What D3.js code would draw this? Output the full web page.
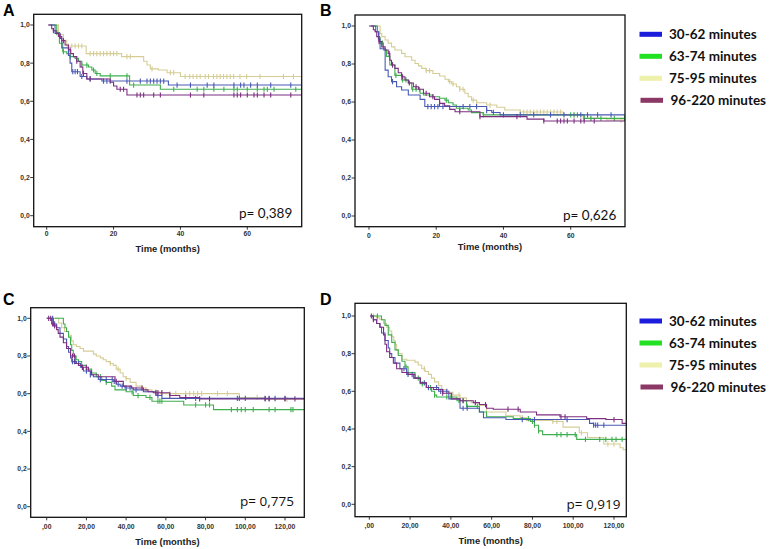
<!DOCTYPE html>
<html>
<head>
<meta charset="utf-8">
<script src="https://cdn.jsdelivr.net/npm/d3@7"></script>
<style>
  body { margin: 0; background: #fff; }
  svg { display: block; }
</style>
</head>
<body>
<main></main>
<script>
const groups = ["30-62 minutes", "63-74 minutes", "75-95 minutes", "96-220 minutes"];
const lineColors = ["#4a5ab4", "#3fae4f", "#d6cd96", "#7d2e80"];
const legendColors = ["#1c1cdc", "#22e022", "#eef1ab", "#8c3866"];
const pValues = ["0,389", "0,626", "0,775", "0,919"];
const panelLetters = ["A", "B", "C", "D"];
const survTicks = [0, 0.2, 0.4, 0.6, 0.8, 1.0];
const monthTicksShort = [0, 20, 40, 60];
const monthTicksLong = [0, 20, 40, 60, 80, 100, 120];

// [time, survival after the step]
const aBlue = [[0.5,1],[2.5,0.956],[4,0.93],[4.5,0.88],[6.5,0.84],[7,0.80],[7.5,0.755],[10,0.73],[12,0.717],[16.5,0.706],[36.4,0.685]];
const aGreen = [[1.5,1],[3,0.96],[3.8,0.904],[4.8,0.86],[6,0.85],[7,0.834],[8.5,0.825],[9.5,0.81],[10.5,0.79],[12.5,0.78],[13.5,0.764],[14.5,0.746],[16,0.733],[24.8,0.685],[34,0.663]];
const aYellow = [[1,1],[3.5,0.95],[5,0.92],[6,0.89],[11.8,0.85],[22.4,0.834],[29,0.81],[30,0.79],[31,0.77],[33.4,0.764],[36,0.75],[40,0.73]];
const aPurple = [[0.5,1],[1.5,0.98],[2,0.97],[2.8,0.956],[3.5,0.94],[4.5,0.918],[5.5,0.895],[6.5,0.87],[7.2,0.85],[8,0.834],[9,0.81],[10,0.78],[10.8,0.746],[12,0.717],[19,0.70],[20,0.68],[21,0.663],[24,0.633]];
const aBlueCens = [7.8,8.5,9.2,10.5,13,17,18,19,24,28,30,31,32,33,34,35,39,43,48,50,56,58,59,61,63,67,73];
const aGreenCens = [3,5,7,10.5,12,14,15,19,24,26,38,45,47,50,53,56,57,60,63,65,66,68,74.5];
const aYellowCens = [6.5,7.5,8.5,9.5,10.5,13,14,15,16,17,18,19,20,21,24,25,31.5,37,38,41.4,42.8,43.8,44.9,45.9,47.4,48.4,49.9,50.9,51.9,52.9,53.9,54.9,55.9,57.8,59.8,63.8,70.8,73.8];
const aPurpleCens = [2,4,5,7,9,11,13,22,23,27,28,29,32,34,43,47,56,57,58,60,62,63,65,67,73];

const bBlue = [[0.5,1],[2,0.97],[2.8,0.93],[3.3,0.88],[4.8,0.768],[5.7,0.733],[6.7,0.707],[8.2,0.68],[9.7,0.663],[11.7,0.637],[15.2,0.614],[16.6,0.576],[35,0.555],[36.5,0.545],[39,0.532]];
const bGreen = [[1,1],[2.5,0.97],[3,0.94],[3.3,0.91],[4.3,0.874],[5.2,0.84],[6.2,0.795],[7.7,0.74],[9.7,0.716],[11.7,0.70],[12.7,0.667],[15.2,0.646],[16.2,0.637],[19,0.628],[21,0.62],[22.6,0.61],[23.6,0.596],[25,0.584],[26,0.567],[29.5,0.558],[30.5,0.544],[34,0.532],[64,0.514]];
const bYellow = [[0.5,1],[3.3,0.96],[3.8,0.944],[4.8,0.926],[5.7,0.91],[6.7,0.89],[7.7,0.874],[9.7,0.856],[10.7,0.838],[12.7,0.82],[13.7,0.803],[14.7,0.79],[15.7,0.777],[17,0.765],[19,0.75],[21,0.737],[22.6,0.72],[23.6,0.707],[24.6,0.695],[26,0.68],[27,0.667],[28.5,0.646],[29.5,0.628],[30.5,0.61],[32,0.596],[35,0.584],[38,0.572],[40.4,0.558],[45,0.547],[57.8,0.532],[63.7,0.514],[70.7,0.505]];
const bPurple = [[0,1],[1.3,0.98],[1.8,0.97],[2.3,0.944],[3,0.918],[3.8,0.89],[4.8,0.874],[5.7,0.856],[6.2,0.82],[6.7,0.795],[7.7,0.777],[8.7,0.754],[9.7,0.733],[10.7,0.716],[11.7,0.70],[13.2,0.68],[14.7,0.667],[16.2,0.646],[18,0.628],[19.5,0.614],[21,0.593],[22.5,0.58],[24,0.561],[25.6,0.549],[33,0.523],[47,0.51],[52,0.50]];
const bBlueCens = [3,7,17.5,18.5,19.5,20.5,22,28,30,32,35,37,40,45,49,54,58,63,65,68,72];
const bGreenCens = [4,7,8,10,11,13,14,15,23,27,34,60,61,62,64,66,69,73,76];
const bYellowCens = [17,18,24,25,27,28,31,32,36,45,46,47,48,49,50,51,52,53,54,55,56,57,61,66,75];
const bPurpleCens = [3,6,7,10,12,14,17,19,21,27,33,44,52,56,57,58,59,61,63,64,67];

const cBlue = [[0,1],[3.4,0.97],[5,0.95],[6.7,0.92],[8.4,0.89],[10,0.85],[11,0.82],[12,0.79],[12.6,0.77],[15,0.76],[17,0.74],[18.5,0.72],[22,0.70],[23.5,0.69],[26,0.675],[33.5,0.665],[35,0.65],[37,0.64],[39.4,0.63],[43.6,0.62],[48.7,0.61],[55,0.59],[58,0.575]];
const cGreen = [[4,1],[8.4,0.97],[9.2,0.95],[10,0.93],[11,0.90],[12,0.86],[12.6,0.83],[13.4,0.80],[14.8,0.78],[16,0.77],[17.6,0.75],[20,0.73],[22.6,0.71],[25,0.69],[27.7,0.67],[30,0.66],[32.7,0.64],[34.4,0.62],[40,0.61],[43.6,0.59],[50,0.58],[53,0.56],[69,0.54],[84,0.515]];
const cYellow = [[2.5,1],[6,0.975],[7.5,0.95],[9,0.93],[11,0.91],[12.5,0.88],[13.4,0.86],[15,0.85],[16.8,0.84],[18.5,0.826],[23.5,0.81],[25,0.80],[27,0.79],[28.5,0.78],[30,0.77],[32,0.76],[33.5,0.75],[35,0.73],[37,0.71],[38.5,0.69],[40,0.68],[42,0.66],[45,0.64],[48,0.63],[50,0.62],[53,0.61],[57,0.60],[97,0.58],[110,0.57]];
const cPurple = [[0,1],[2.5,0.97],[3.5,0.96],[5,0.94],[5.8,0.92],[6.7,0.90],[8.4,0.87],[10,0.84],[12,0.80],[14.3,0.76],[16,0.75],[17.6,0.74],[21,0.72],[22.6,0.70],[26,0.69],[34.4,0.665],[38.6,0.64],[42.8,0.63],[48.7,0.62],[51,0.61],[53.7,0.605],[62,0.59],[67,0.58],[77,0.572]];
const cBlueCens = [3,4,13,14,16,18,20,22,27,30,33,34,36,38,40,42,45,56,75,96,97,100,110,112,115,120];
const cGreenCens = [27,30,43,46,52,56,57,58,75,80,82,93,96,98,100,104,112,115,123,124];
const cYellowCens = [32,36,40,48,50,55,58,62,65,70,72,74,76,78,86,91,106,115,121];
const cPurpleCens = [1,2,3,4,13,14,18,20,35,48,55,56,58,62,70,77,82,110,112,120,125];

const dBlue = [[0.5,1],[2,0.98],[3.6,0.96],[5.2,0.94],[6,0.91],[7.7,0.87],[9.3,0.83],[10,0.80],[11,0.78],[12.6,0.75],[15,0.72],[18.3,0.69],[21.6,0.67],[25,0.645],[28,0.62],[34,0.60],[39,0.56],[44.5,0.51],[54,0.49],[56,0.46],[67,0.45],[108,0.43],[110,0.42]];
const dGreen = [[1,1],[6,0.98],[7.7,0.95],[9.3,0.90],[11,0.86],[12.6,0.82],[14.2,0.79],[16,0.76],[17.5,0.73],[19,0.70],[22.4,0.67],[25,0.64],[28,0.62],[30.5,0.60],[32,0.58],[33,0.57],[43,0.55],[47.7,0.52],[54,0.49],[57.5,0.465],[70.6,0.455],[79,0.44],[81,0.42],[83,0.39],[85,0.37],[101.7,0.345]];
const dYellow = [[1,1],[3.6,0.99],[5.2,0.98],[7,0.96],[8.5,0.94],[10,0.92],[11,0.89],[12,0.87],[12.7,0.85],[13.4,0.82],[14.2,0.80],[16,0.77],[18.3,0.765],[22.4,0.755],[24,0.74],[25.7,0.72],[27.3,0.705],[29,0.69],[30.5,0.67],[32,0.65],[34,0.63],[35.5,0.61],[38,0.595],[41,0.58],[44.5,0.565],[47.7,0.55],[50,0.54],[54,0.525],[57.5,0.49],[67,0.47],[74,0.46],[77,0.445],[90,0.44],[95,0.41],[103,0.38],[107,0.355],[115,0.32],[123,0.30],[124.5,0.29]];
const dPurple = [[0.5,1],[2,0.98],[3.6,0.96],[5.2,0.94],[7,0.90],[7.7,0.85],[8.5,0.81],[10,0.78],[11.8,0.75],[13.4,0.72],[16,0.70],[19,0.69],[22.4,0.67],[25,0.645],[28,0.62],[31.4,0.61],[36,0.59],[40.4,0.56],[44.5,0.55],[51,0.54],[54,0.53],[57.5,0.51],[60.8,0.505],[74,0.49],[82,0.475],[93.5,0.465],[106.6,0.455],[116,0.45],[124,0.43]];
const dBlueCens = [17,19,21,27,29,33,35,36,38,46,48,75,81,97,110,111,112,115];
const dGreenCens = [4,18,24,26,30,32,38,40,44,46,48,53,78,80,81,83,92,94,97,101,106,113,116,119,121,124];
const dYellowCens = [2,4,27,44,57,75,90,92,104,117,120];
const dPurpleCens = [1,2,36,46,52,57,68,73,94,96,120];

const width = 769, height = 549;

// layout of each panel (pixels): box edges, where the reference ticks sit
const panels = [
  { box: [33.7, 14.3, 301.7, 226.7], x: [[0, 60], [46.7, 247.3]], y: [25, 215.7], ticks: monthTicksShort, long: false,
    curves: [aYellow, aGreen, aBlue, aPurple], cens: [aYellowCens, aGreenCens, aBlueCens, aPurpleCens],
    letter: [3, 16], p: [239, 218, "Lato"], tickDy: 9.5, titleDy: 25.5 },
  { box: [355, 15, 625, 226.7], x: [[0, 60], [369, 570.7]], y: [26, 216], ticks: monthTicksShort, long: false,
    curves: [bYellow, bGreen, bBlue, bPurple], cens: [bYellowCens, bGreenCens, bBlueCens, bPurpleCens],
    letter: [320, 16], p: [563, 220, "Lato"], tickDy: 11, titleDy: 23.5 },
  { box: [30.7, 307.7, 304.3, 517.3], x: [[0, 120], [46.7, 285]], y: [318.3, 506.7], ticks: monthTicksLong, long: true,
    curves: [cYellow, cGreen, cBlue, cPurple], cens: [cYellowCens, cGreenCens, cBlueCens, cPurpleCens],
    letter: [3, 305], p: [240, 506, "Open Sans"], tickDy: 12, titleDy: 27.5 },
  { box: [355, 303.3, 626.3, 516.7], x: [[0, 120], [369.3, 614]], y: [316, 504.3], ticks: monthTicksLong, long: true,
    curves: [dYellow, dGreen, dBlue, dPurple], cens: [dYellowCens, dGreenCens, dBlueCens, dPurpleCens],
    letter: [320, 305], p: [566.5, 508.5, "Open Sans"], tickDy: 10.8, titleDy: 27.5 }
];
const curveColorIdx = [2, 1, 0, 3];

const svg = d3.select("main").append("svg")
  .attr("width", width).attr("height", height)
  .attr("viewBox", [0, 0, width, height]);

const stepAt = (steps, t) => {
  let v = steps[0][1];
  for (const s of steps) if (s[0] <= t) v = s[1];
  return v;
};

const commaFmt = d => d.toFixed(1).replace(".", ",");
const longFmt = d => d === 0 ? ",00" : d.toFixed(2).replace(".", ",");

panels.forEach((p, i) => {
  const [l, t, r, b] = p.box;
  const x = d3.scaleLinear().domain(p.x[0]).range(p.x[1]);
  const y = d3.scaleLinear().domain([1, 0]).range(p.y);
  const xMax = x.invert(r);
  const g = svg.append("g");

  const clipId = "clip" + i;
  g.append("clipPath").attr("id", clipId)
    .append("rect").attr("x", l).attr("y", t).attr("width", r - l).attr("height", b - t);

  const plot = g.append("g").attr("clip-path", `url(#${clipId})`);
  const line = d3.line().curve(d3.curveStepAfter).x(d => x(d[0])).y(d => y(d[1]));

  p.curves.forEach((steps, k) => {
    const col = lineColors[curveColorIdx[k]];
    const pts = steps.concat([[xMax, steps[steps.length - 1][1]]]);
    plot.append("path").attr("d", line(pts))
      .attr("fill", "none").attr("stroke", col).attr("stroke-width", 1.1);
    plot.selectAll(null).data(p.cens[k]).enter().append("line")
      .attr("x1", d => x(d)).attr("x2", d => x(d))
      .attr("y1", d => y(stepAt(steps, d)) - 2.6)
      .attr("y2", d => y(stepAt(steps, d)) + 2.6)
      .attr("stroke", col).attr("stroke-width", 1.1);
  });

  g.append("rect").attr("x", l).attr("y", t).attr("width", r - l).attr("height", b - t)
    .attr("fill", "none").attr("stroke", "#111").attr("stroke-width", 1.3);

  // y ticks
  g.selectAll(null).data(survTicks).enter().append("line")
    .attr("x1", l - 3.5).attr("x2", l).attr("y1", d => y(d)).attr("y2", d => y(d))
    .attr("stroke", "#222").attr("stroke-width", 0.9);
  g.selectAll(null).data(survTicks).enter().append("text")
    .attr("x", l - 4).attr("y", d => y(d) + 2.4)
    .attr("text-anchor", "end")
    .attr("font-family", "Liberation Sans, Arial, sans-serif").attr("font-weight", "bold")
    .attr("font-size", "6.8px").attr("fill", "#333")
    .text(commaFmt);

  // x ticks
  g.selectAll(null).data(p.ticks).enter().append("line")
    .attr("x1", d => x(d)).attr("x2", d => x(d)).attr("y1", b).attr("y2", b + 3)
    .attr("stroke", "#222").attr("stroke-width", 0.9);
  g.selectAll(null).data(p.ticks).enter().append("text")
    .attr("x", d => x(d)).attr("y", b + p.tickDy)
    .attr("text-anchor", "middle")
    .attr("font-family", "Liberation Sans, Arial, sans-serif").attr("font-weight", "bold")
    .attr("font-size", "6.8px").attr("fill", "#333")
    .text(p.long ? longFmt : d => d);

  g.append("text")
    .attr("x", (l + r) / 2).attr("y", b + p.titleDy)
    .attr("text-anchor", "middle")
    .attr("font-family", "Liberation Sans, Arial, sans-serif").attr("font-weight", "bold")
    .attr("font-size", "9.4px").attr("fill", "#222")
    .text("Time (months)");

  g.append("text")
    .attr("x", p.p[0]).attr("y", p.p[1])
    .attr("font-family", p.p[2]).attr("font-size", "13.5px").attr("fill", "#111")
    .text("p= " + pValues[i]);

  g.append("text")
    .attr("x", p.letter[0]).attr("y", p.letter[1])
    .attr("font-family", "Liberation Sans, Arial, sans-serif").attr("font-weight", "bold")
    .attr("font-size", "16px").attr("fill", "#000")
    .text(panelLetters[i]);
});

// legends
const legendTops = [34.3, 321];
legendTops.forEach(top => {
  const lg = svg.append("g");
  groups.forEach((name, j) => {
    const cy = top + j * 22;
    lg.append("rect").attr("x", 639.5 + (j === 3 ? 1 : 0)).attr("y", cy - 2.5).attr("width", 22.5).attr("height", 5)
      .attr("fill", legendColors[j]);
    lg.append("text").attr("x", 669 + (j === 3 ? 1.5 : 0)).attr("y", cy + 4.8)
      .attr("font-family", "Lato, sans-serif").attr("font-weight", "bold")
      .attr("font-size", "13.5px").attr("fill", "#111")
      .text(name);
  });
});
</script>
</body>
</html>
